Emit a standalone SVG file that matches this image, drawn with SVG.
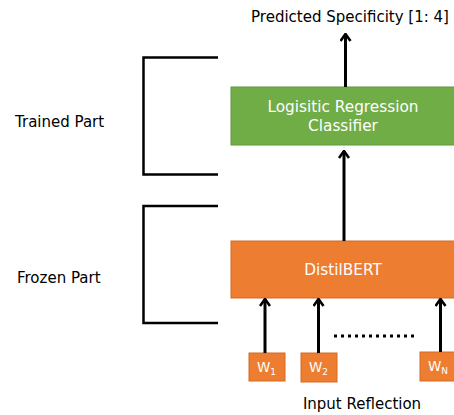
<svg xmlns="http://www.w3.org/2000/svg" width="454" height="415" viewBox="0 0 454 415">
<style>
text{font-family:"DejaVu Sans","Liberation Sans",sans-serif;}
.lbl{font-size:15px;fill:#000;}
.wt{font-size:15.3px;fill:#fff;text-anchor:middle;}
.sm{font-size:13.5px;fill:#fff;}
.sub{font-size:9px;fill:#fff;}
.orange{fill:#ED7D31;stroke:#D56B22;stroke-width:1;}
.green{fill:#70AD47;stroke:#5E9A3A;stroke-width:1;}
.br{fill:none;stroke:#000;stroke-width:2.5;}
.ar{stroke:#000;stroke-width:3;fill:none;marker-end:url(#ah);}
</style>
<defs>
<marker id="ah" viewBox="0 0 12 12" refX="10.5" refY="6" markerWidth="12" markerHeight="12" orient="auto" markerUnits="userSpaceOnUse">
<path d="M3.5,1 L10.5,6 L3.5,11" fill="none" stroke="#000" stroke-width="2.6"/>
</marker>
</defs>
<g id="labels">
<text class="lbl" x="350" y="22" text-anchor="middle">Predicted Specificity [1: 4]</text>
<text class="lbl" x="15" y="127">Trained Part</text>
<text class="lbl" x="17" y="283">Frozen Part</text>
<text class="lbl" x="362" y="409" text-anchor="middle">Input Reflection</text>
</g>
<g id="brackets">
<path class="br" d="M218,57.5 H143.5 V174.5 H218"/>
<path class="br" d="M218,206 H143.5 V323 H218"/>
</g>
<g id="classifier">
<rect class="green" x="231" y="87" width="224" height="58"/>
<text class="wt" x="343" y="112">Logisitic Regression</text>
<text class="wt" x="343" y="131">Classifier</text>
</g>
<g id="distilbert">
<rect class="orange" x="231" y="241" width="224" height="57"/>
<text class="wt" x="343" y="275">DistilBERT</text>
</g>
<g id="w1">
<rect class="orange" x="249" y="353" width="36" height="28"/>
<text class="sm" x="257" y="372">W<tspan class="sub" dy="3">1</tspan></text>
</g>
<g id="w2">
<rect class="orange" x="301" y="353" width="36" height="29"/>
<text class="sm" x="309" y="372">W<tspan class="sub" dy="3">2</tspan></text>
</g>
<g id="wn">
<rect class="orange" x="420" y="352" width="35" height="29"/>
<text class="sm" x="428" y="371">W<tspan class="sub" dy="3">N</tspan></text>
</g>
<g id="connectors">
<line class="ar" x1="345.5" y1="87" x2="345.5" y2="34"/>
<line class="ar" x1="344" y1="241" x2="344" y2="151"/>
<line class="ar" x1="265" y1="353" x2="265" y2="299"/>
<line class="ar" x1="318.5" y1="353" x2="318.5" y2="299"/>
<line class="ar" x1="440.5" y1="352" x2="440.5" y2="299"/>
<line x1="334" y1="336" x2="415" y2="336" stroke="#000" stroke-width="3" stroke-dasharray="3,4"/>
</g>
</svg>
